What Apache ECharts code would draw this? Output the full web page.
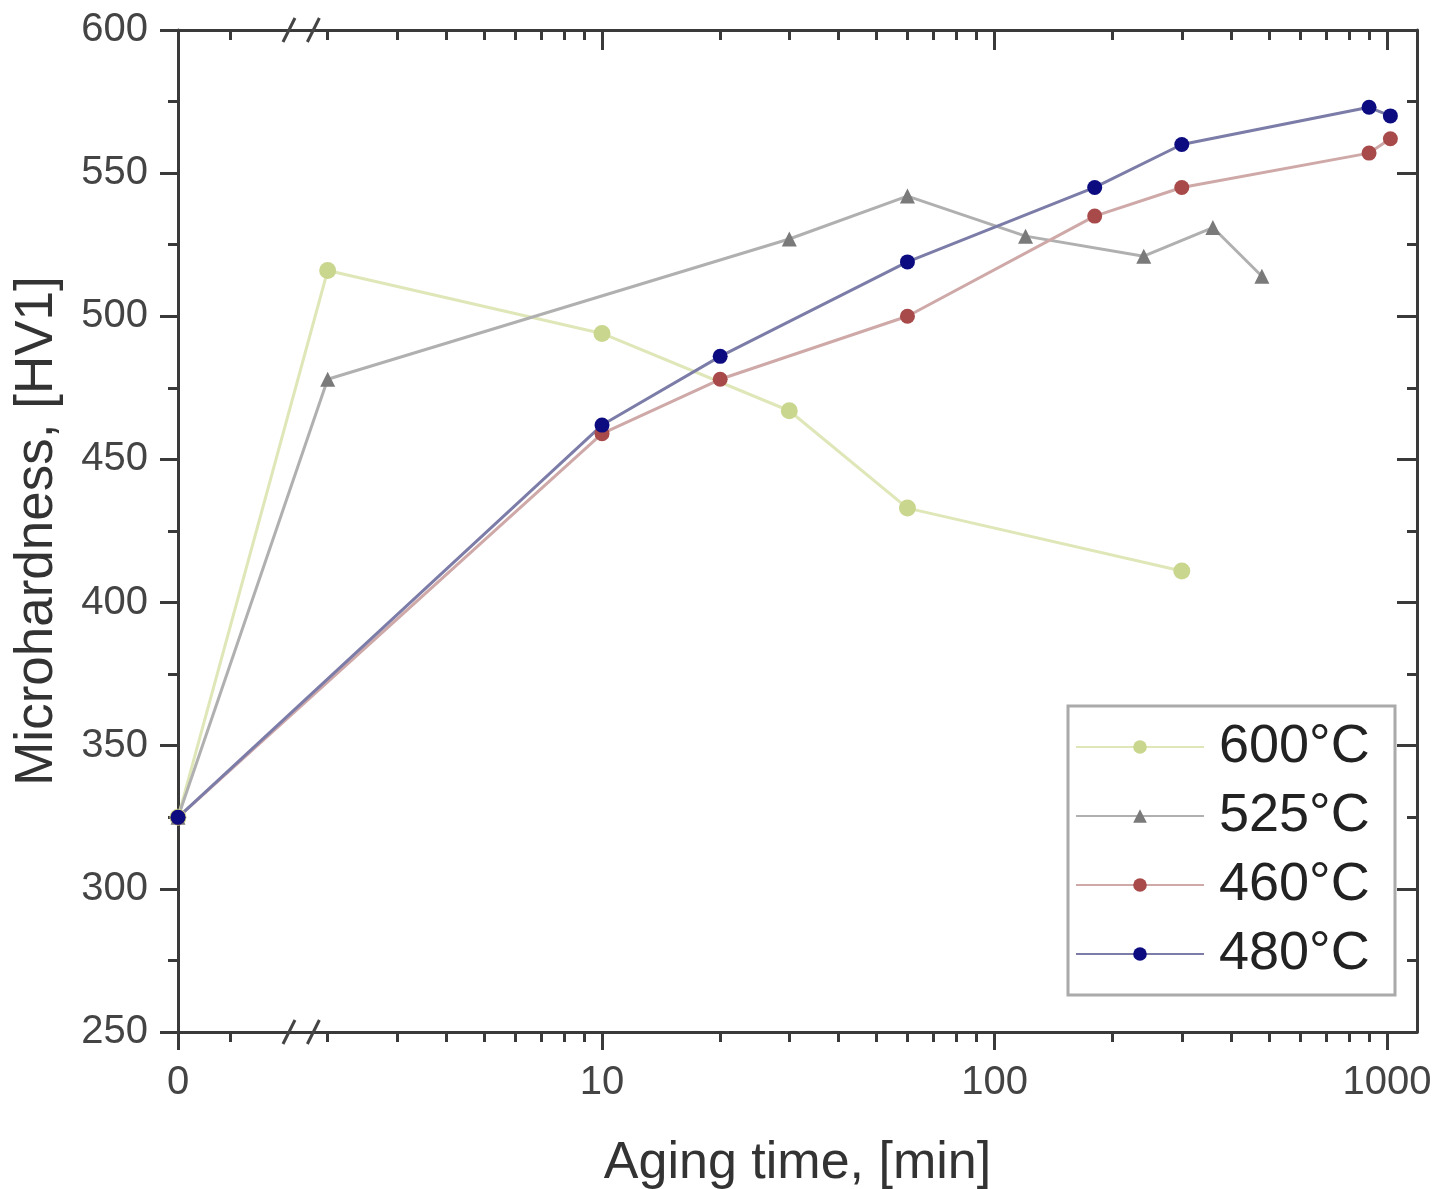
<!DOCTYPE html>
<html>
<head>
<meta charset="utf-8">
<script src="https://cdn.jsdelivr.net/npm/echarts@6/dist/echarts.min.js"></script>
<style>
html,body{margin:0;padding:0;background:#fff;}
#chart{width:1450px;height:1189px;}
</style>
</head>
<body>
<div id="chart"></div>
<script>
// ---- data (aging time in minutes, microhardness HV1) ----
const seriesNames = ['600°C', '525°C', '460°C', '480°C'];
const times600 = [0, 2, 10, 30, 60, 300];
const hv600    = [325, 516, 494, 467, 433, 411];
const times525 = [0, 2, 30, 60, 120, 240, 360, 480];
const hv525    = [325, 478, 527, 542, 528, 521, 531, 514];
const times460 = [0, 10, 20, 60, 180, 300, 900, 1020];
const hv460    = [325, 459, 478, 500, 535, 545, 557, 562];
const times480 = [0, 10, 20, 60, 180, 300, 900, 1020];
const hv480    = [325, 462, 486, 519, 545, 560, 573, 570];

// ---- tick values (minutes) ----
const xMajorTicks = [0, 10, 100, 1000];
const xMinorTicks = [0.5, 2, 3, 4, 5, 6, 7, 8, 9, 20, 30, 40, 50, 60, 70, 80, 90,
                     200, 300, 400, 500, 600, 700, 800, 900];
const yMin = 250, yMax = 600, yStep = 50;

// ---- broken axis: linear segment 0..1 min, then break, then log10 scale ----
const P0 = -0.0803;        // axis position of t = 0
const LIN_SPAN = 0.2675;   // axis length of the linear 0..1 segment
const PMAX = 3.0764;
const BREAK_END = 1.95;
function pos(t) { return t <= 1 ? P0 + t * LIN_SPAN : Math.log10(t); }
const majorPos = xMajorTicks.map(pos);
const minorPos = xMinorTicks.map(pos);
function labelFor(v) {
  for (let i = 0; i < majorPos.length; i++) if (Math.abs(majorPos[i] - v) < 1e-6) return String(xMajorTicks[i]);
  return '';
}

const FONT = 'Liberation Sans, Arial, sans-serif';
const AX = '#3a3a3a';

function xAx(position, ticks, len, inside, showLine, showLabel, extra) {
  return Object.assign({
    type: 'value', min: P0, max: PMAX, position: position,
    axisLine: { show: showLine, onZero: false, lineStyle: { color: AX, width: 3 } },
    axisTick: { show: true, customValues: ticks, length: len, inside: inside, lineStyle: { color: AX, width: 3 } },
    axisLabel: showLabel ? { show: true, customValues: ticks, formatter: labelFor, margin: 31,
                  fontSize: 40, color: '#444', fontFamily: FONT } : { show: false },
    splitLine: { show: false }
  }, extra || {});
}

const chart = echarts.init(document.getElementById('chart'), null, { renderer: 'canvas' });

function mk(name, times, vals, color, lineColor, symbol, size) {
  return {
    name: name, type: 'line', xAxisIndex: 0, yAxisIndex: 0,
    data: times.map((t, i) => [pos(t), vals[i]]),
    symbol: symbol, symbolSize: size, clip: false,
    itemStyle: { color: color },
    lineStyle: { color: lineColor, width: 3 },
    emphasis: { disabled: true }
  };
}

const option = {
  animation: false,
  backgroundColor: '#fff',
  grid: { left: 178, right: 33, top: 30, bottom: 157, containLabel: false, outerBoundsMode: 'none' },
  xAxis: [
    xAx('bottom', majorPos, 18, false, true, true, {
      name: 'Aging time, [min]', nameLocation: 'middle', nameGap: 106,
      nameTextStyle: { fontSize: 52, color: '#333', fontFamily: FONT }
    }),
    xAx('bottom', minorPos, 10, false, false, false),
    xAx('top', majorPos, 20, true, true, false),
    xAx('top', minorPos, 10, true, false, false)
  ],
  yAxis: [
    {
      type: 'value', min: yMin, max: yMax, interval: yStep, position: 'left',
      axisLine: { show: true, onZero: false, lineStyle: { color: AX, width: 3 } },
      axisTick: { show: true, length: 18, inside: false, lineStyle: { color: AX, width: 3 } },
      minorTick: { show: true, splitNumber: 2, length: 10, lineStyle: { color: AX, width: 3 } },
      axisLabel: { margin: 30, fontSize: 40, color: '#444', fontFamily: FONT },
      splitLine: { show: false }, minorSplitLine: { show: false },
      name: 'Microhardness, [HV1]', nameLocation: 'middle', nameGap: 114,
      nameTextStyle: { fontSize: 53, color: '#333', fontFamily: FONT }
    },
    {
      type: 'value', min: yMin, max: yMax, interval: yStep, position: 'right',
      axisLine: { show: true, onZero: false, lineStyle: { color: AX, width: 3 } },
      axisTick: { show: true, length: 20, inside: true, lineStyle: { color: AX, width: 3 } },
      minorTick: { show: true, splitNumber: 2, length: 10, lineStyle: { color: AX, width: 3 } },
      axisLabel: { show: false },
      splitLine: { show: false }
    }
  ],
  legend: {
    orient: 'vertical', left: 1075, top: 717, padding: 0,
    itemWidth: 128, itemHeight: 17, itemGap: 9,
    data: seriesNames,
    textStyle: { fontSize: 54, lineHeight: 60, color: '#222', fontFamily: FONT, padding: [0, 0, 0, 10] },
    selectedMode: false
  },
  series: [
    mk(seriesNames[0], times600, hv600, '#c9d68e', '#dfe7b8', 'circle', 17),
    mk(seriesNames[1], times525, hv525, '#7a7a7a', '#b0b0b0', 'triangle', 15),
    mk(seriesNames[2], times460, hv460, '#a84a4a', '#cfa8a8', 'circle', 15),
    mk(seriesNames[3], times480, hv480, '#0c0c80', '#7c7ca8', 'circle', 15)
  ]
};
chart.setOption(option);

// legend frame and axis-break marks (decoration)
const xb1 = chart.convertToPixel({ xAxisIndex: 0 }, pos(1));
const xb2 = chart.convertToPixel({ xAxisIndex: 0 }, Math.log10(BREAK_END));
const yTop = chart.convertToPixel({ yAxisIndex: 0 }, yMax);
const yBot = chart.convertToPixel({ yAxisIndex: 0 }, yMin);
const marks = [];
[yTop, yBot].forEach(function (yy) {
  [xb1 + 6, xb2 - 10].forEach(function (xx) {
    marks.push({ type: 'line', shape: { x1: xx - 6, y1: yy + 12, x2: xx + 6, y2: yy - 12 },
                 style: { stroke: '#444', lineWidth: 3 }, z: 10 });
  });
});
marks.push({ type: 'rect', shape: { x: 1068, y: 706, width: 327, height: 289 },
             style: { fill: 'none', stroke: '#aaa', lineWidth: 3 }, z: 5 });
chart.setOption({ graphic: marks });
</script>
</body>
</html>
